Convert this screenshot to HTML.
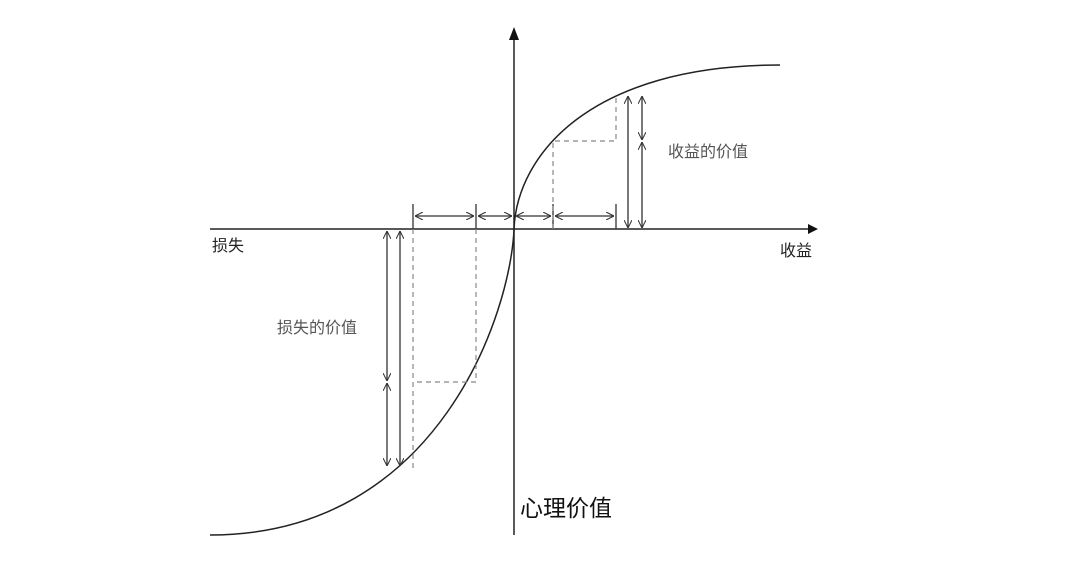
<!DOCTYPE html>
<html><head><meta charset="utf-8"><style>
html,body{margin:0;padding:0;background:#fff;}
svg{display:block}
text{font-family:"Liberation Sans","Noto Sans CJK SC",sans-serif;}
</style></head><body>
<svg width="1080" height="579" viewBox="0 0 1080 579" xmlns="http://www.w3.org/2000/svg">
<defs>
<marker id="a" viewBox="0 0 10 10" refX="10" refY="5" markerWidth="8" markerHeight="8" orient="auto-start-reverse" markerUnits="userSpaceOnUse">
<path d="M0,0 L10,5 L0,10" fill="none" stroke="#333" stroke-width="1.3"/></marker>
</defs>
<g stroke="#222" stroke-width="1.5" fill="none">
<line x1="210" y1="229" x2="808" y2="229"/>
<line x1="514" y1="535" x2="514" y2="38"/>
<path d="M514,229 C517,155 590,65 780,65"/>
<path d="M514,229 C511,310 440,535 210,535"/>
</g>
<polygon points="808,224 818,229 808,234" fill="#111"/>
<polygon points="509,40 514,27 519,40" fill="#111"/>
<g stroke="#333" stroke-width="1.3">
<line x1="413" y1="204" x2="413" y2="229"/>
<line x1="476" y1="204" x2="476" y2="229"/>
<line x1="553" y1="204" x2="553" y2="229"/>
<line x1="616" y1="204" x2="616" y2="229"/>
</g>
<g stroke="#333" stroke-width="1.3" marker-start="url(#a)" marker-end="url(#a)">
<line x1="415" y1="216" x2="474" y2="216"/>
<line x1="478" y1="216" x2="512" y2="216"/>
<line x1="516" y1="216" x2="551" y2="216"/>
<line x1="555" y1="216" x2="614" y2="216"/>
<line x1="628" y1="96" x2="628" y2="228"/>
<line x1="642" y1="96" x2="642" y2="140"/>
<line x1="642" y1="142" x2="642" y2="228"/>
<line x1="387" y1="231" x2="387" y2="381"/>
<line x1="387" y1="383" x2="387" y2="466"/>
<line x1="400" y1="231" x2="400" y2="466"/>
</g>
<g stroke="#888" stroke-width="1.2" stroke-dasharray="5,4" fill="none">
<polyline points="553,229 553,141 616,141 616,95"/>
<polyline points="413,229 413,468"/>
<polyline points="476,229 476,382 413,382"/>
</g>
<text x="668" y="157" font-size="16" fill="#555">收益的价值</text>
<text x="277" y="333" font-size="16" fill="#555">损失的价值</text>
<text x="212" y="251" font-size="16" fill="#222">损失</text>
<text x="780" y="256" font-size="16" fill="#222">收益</text>
<text x="520" y="516" font-size="23" fill="#111">心理价值</text>
</svg>
</body></html>
